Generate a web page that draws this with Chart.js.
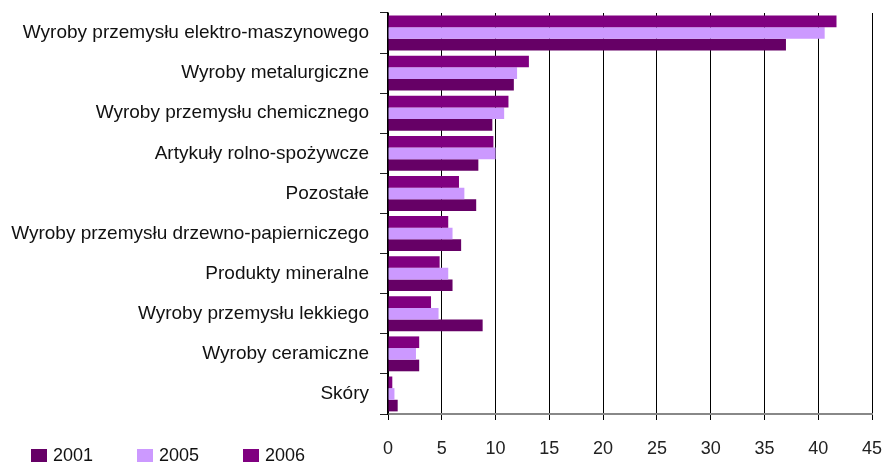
<!DOCTYPE html>
<html>
<head>
<meta charset="utf-8">
<script src="https://cdn.jsdelivr.net/npm/chart.js@4/dist/chart.umd.min.js"></script>
<style>
    html, body { margin: 0; padding: 0; background: #fff; }
    #wrap { width: 883px; height: 462px; position: relative; }
</style>
</head>
<body>
<div id="wrap"><canvas id="chart"></canvas></div>
<script>
// Categories (top to bottom)
const categories = [
    'Wyroby przemysłu elektro-maszynowego',
    'Wyroby metalurgiczne',
    'Wyroby przemysłu chemicznego',
    'Artykuły rolno-spożywcze',
    'Pozostałe',
    'Wyroby przemysłu drzewno-papierniczego',
    'Produkty mineralne',
    'Wyroby przemysłu lekkiego',
    'Wyroby ceramiczne',
    'Skóry'
];

// Series values (%)
const values2001 = [37.0, 11.7, 9.7, 8.4, 8.2, 6.8, 6.0, 8.8, 2.9, 0.9];
const values2005 = [40.6, 12.0, 10.8, 10.0, 7.1, 6.0, 5.6, 4.7, 2.6, 0.6];
const values2006 = [41.7, 13.1, 11.2, 9.8, 6.6, 5.6, 4.8, 4.0, 2.9, 0.4];

// X axis ticks
const xTicks = [0, 5, 10, 15, 20, 25, 30, 35, 40, 45];

const labelFont = "'Liberation Sans', Arial, sans-serif";

// Legend drawn under the category labels, next to the x tick labels
const bottomLegend = {
    id: 'bottomLegend',
    afterDraw(chart) {
        const ctx = chart.ctx;
        // legend order is oldest first
        const items = chart.data.datasets.slice().reverse();
        ctx.save();
        ctx.font = '18px ' + labelFont;
        ctx.textBaseline = 'alphabetic';
        ctx.textAlign = 'left';
        items.forEach((ds, i) => {
            const x = 31 + i * 106;
            ctx.fillStyle = ds.backgroundColor;
            ctx.fillRect(x, 449, 16, 16);
            ctx.fillStyle = '#111';
            ctx.fillText(ds.label, x + 22, 461);
        });
        ctx.restore();
    }
};

// drop the extra room Chart.js keeps for the first/last tick label
function noScalePadding(scale) {
    scale.paddingTop = 0;
    scale.paddingBottom = 0;
    scale.paddingLeft = 0;
    scale.paddingRight = 0;
}

const ctx = document.getElementById('chart').getContext('2d');
const chart = new Chart(ctx, {
    type: 'bar',
    data: {
        labels: categories,
        datasets: [
            {
                label: '2006',
                data: values2006,
                backgroundColor: '#800080'
            },
            {
                label: '2005',
                data: values2005,
                backgroundColor: '#CC99FF'
            },
            {
                label: '2001',
                data: values2001,
                backgroundColor: '#660066'
            }
        ]
    },
    options: {
        indexAxis: 'y',
        responsive: true,
        maintainAspectRatio: false,
        animation: false,
        datasets: {
            bar: {
                categoryPercentage: 0.87,
                barPercentage: 1.0
            }
        },
        layout: {
            padding: { top: 13, right: 11, bottom: 0, left: 0 }
        },
        scales: {
            x: {
                min: 0,
                max: 45,
                afterBuildTicks: scale => {
                    scale.ticks = xTicks.map(v => ({ value: v }));
                },
                afterFit: scale => {
                    scale.height = 48;
                    noScalePadding(scale);
                },
                grid: {
                    color: '#000',
                    lineWidth: 1,
                    tickLength: 6,
                    drawTicks: true
                },
                border: {
                    color: '#888',
                    width: 2
                },
                ticks: {
                    color: '#222',
                    padding: 18,
                    font: { family: labelFont, size: 18 }
                }
            },
            y: {
                afterFit: scale => {
                    scale.width = 388;
                    noScalePadding(scale);
                },
                grid: {
                    drawOnChartArea: false,
                    drawTicks: true,
                    tickLength: 8,
                    color: '#222'
                },
                border: {
                    color: '#000',
                    width: 1.5
                },
                ticks: {
                    color: '#111',
                    padding: 11,
                    font: { family: labelFont, size: 19 }
                }
            }
        },
        plugins: {
            legend: { display: false },
            tooltip: { enabled: false }
        }
    },
    plugins: [bottomLegend]
});
</script>
</body>
</html>
